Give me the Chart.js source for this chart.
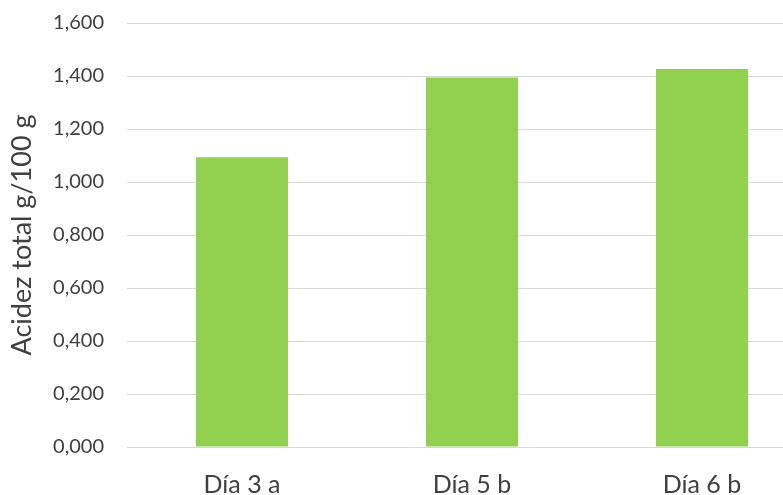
<!DOCTYPE html>
<html>
<head>
<meta charset="utf-8">
<script src="https://cdn.jsdelivr.net/npm/chart.js@4/dist/chart.umd.min.js"></script>
<style>
  html, body { margin: 0; padding: 0; background: #ffffff; overflow: hidden; }
  #wrap { width: 783px; height: 495px; overflow: hidden; position: relative; }
  #box { position: absolute; left: 0; top: 0; width: 830px; height: 495px; }
</style>
</head>
<body>
<div id="wrap"><div id="box"><canvas id="c"></canvas></div></div>
<script>
// Acidez total por día de fermentación
const categories = ['Día 3 a', 'Día 5 b', 'Día 6 b'];
const acidez = [1.093, 1.394, 1.426];
const yMin = 0;
const yMax = 1.6;
const yStep = 0.2;

const textColor = '#404040';
const gridColor = '#d9d9d9';
const fontFamily = 'Lato, "Open Sans", sans-serif';

new Chart(document.getElementById('c'), {
  type: 'bar',
  data: {
    labels: categories,
    datasets: [{
      data: acidez,
      backgroundColor: '#92d050',
      borderWidth: 0,
      barPercentage: 0.4,
      categoryPercentage: 1.0
    }]
  },
  options: {
    responsive: true,
    maintainAspectRatio: false,
    animation: false,
    layout: { padding: { top: 23, right: 13, left: 0, bottom: 0 } },
    plugins: {
      legend: { display: false },
      tooltip: { enabled: false }
    },
    scales: {
      x: {
        grid: { display: false, drawTicks: false },
        border: { display: false },
        ticks: {
          color: textColor,
          padding: 23,
          font: { family: fontFamily, size: 25 }
        },
        afterFit: (scale) => {
          scale.height = 48;
          scale.paddingLeft = 0;
          scale.paddingRight = 0;
        }
      },
      y: {
        min: yMin,
        max: yMax,
        border: { display: false },
        grid: { color: gridColor, lineWidth: 1, drawTicks: false },
        ticks: {
          stepSize: yStep,
          color: textColor,
          padding: 23,
          font: { family: fontFamily, size: 20 },
          callback: (v) => Number(v).toFixed(3).replace('.', ',')
        },
        title: {
          display: true,
          text: 'Acidez total g/100 g',
          color: textColor,
          padding: { top: 6, bottom: 0 },
          font: { family: fontFamily, size: 27 }
        },
        afterFit: (scale) => {
          scale.width = 127;
          scale.paddingTop = 0;
          scale.paddingBottom = 0;
        }
      }
    }
  }
});
</script>
</body>
</html>
